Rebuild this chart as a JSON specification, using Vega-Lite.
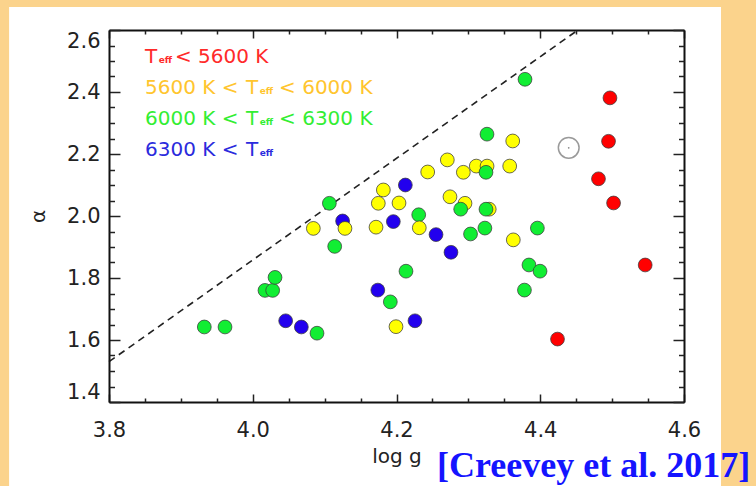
{
  "$schema": "https://vega.github.io/schema/vega-lite/v6.json",
  "width": 575,
  "height": 372,
  "autosize": {"type": "none"},
  "padding": {"left": 109, "top": 30, "right": 72, "bottom": 84},
  "background": "#fbd38c",
  "config": {
    "view": {"fill": null, "stroke": null},
    "axis": {
      "grid": false,
      "labelFont": "DejaVu Sans",
      "labelFontSize": 21,
      "labelColor": "#222222",
      "titleFont": "DejaVu Sans",
      "titleFontSize": 20,
      "titleFontWeight": "normal",
      "titleColor": "#222222",
      "tickColor": "#222222",
      "tickWidth": 1.5,
      "domainColor": "#111111",
      "domainWidth": 2
    }
  },
  "layer": [
    {
      "data": {"values": [{}]},
      "mark": {"type": "rect", "color": "#ffffff", "clip": false},
      "encoding": {
        "x": {"datum": 3.661, "type": "quantitative", "scale": {"domain": [3.8, 4.6], "nice": false, "zero": false}, "axis": null},
        "x2": {"datum": 4.6515},
        "y": {"datum": 2.674, "type": "quantitative", "scale": {"domain": [1.4, 2.6], "nice": false, "zero": false}, "axis": null},
        "y2": {"datum": 1.05}
      }
    },
    {
      "data": {"values": [{"logg": 3.8, "alpha": 1.53}, {"logg": 4.4525, "alpha": 2.6}]},
      "mark": {"type": "line", "color": "#222222", "strokeDash": [7, 5], "strokeWidth": 1.6},
      "encoding": {
        "x": {"field": "logg", "type": "quantitative", "scale": {"domain": [3.8, 4.6], "nice": false, "zero": false},
          "axis": {"orient": "top", "zindex": 2, "values": [3.8, 4.0, 4.2, 4.4, 4.6], "tickSize": -8, "labels": false, "title": null, "domain": true}},
        "y": {"field": "alpha", "type": "quantitative", "scale": {"domain": [1.4, 2.6], "nice": false, "zero": false},
          "axis": {"orient": "right", "zindex": 2, "values": [1.4, 1.6, 1.8, 2.0, 2.2, 2.4, 2.6], "tickSize": -11, "labels": false, "title": null, "domain": true}}
      }
    },
    {
      "data": {"values": [
        {"logg": 4.2123, "alpha": 2.100, "teff": "T4"},
        {"logg": 4.125, "alpha": 1.984, "teff": "T4"},
        {"logg": 4.1956, "alpha": 1.982, "teff": "T4"},
        {"logg": 4.255, "alpha": 1.940, "teff": "T4"},
        {"logg": 4.2758, "alpha": 1.883, "teff": "T4"},
        {"logg": 4.174, "alpha": 1.761, "teff": "T4"},
        {"logg": 4.0458, "alpha": 1.662, "teff": "T4"},
        {"logg": 4.0676, "alpha": 1.642, "teff": "T4"},
        {"logg": 4.2257, "alpha": 1.662, "teff": "T4"},
        {"logg": 4.2309, "alpha": 2.004, "teff": "T3"},
        {"logg": 4.3617, "alpha": 2.242, "teff": "T2"},
        {"logg": 4.2707, "alpha": 2.181, "teff": "T2"},
        {"logg": 4.2434, "alpha": 2.142, "teff": "T2"},
        {"logg": 4.293, "alpha": 2.141, "teff": "T2"},
        {"logg": 4.311, "alpha": 2.161, "teff": "T2"},
        {"logg": 4.326, "alpha": 2.161, "teff": "T2"},
        {"logg": 4.3575, "alpha": 2.161, "teff": "T2"},
        {"logg": 4.1817, "alpha": 2.084, "teff": "T2"},
        {"logg": 4.1747, "alpha": 2.041, "teff": "T2"},
        {"logg": 4.2035, "alpha": 2.042, "teff": "T2"},
        {"logg": 4.2744, "alpha": 2.062, "teff": "T2"},
        {"logg": 4.2953, "alpha": 2.041, "teff": "T2"},
        {"logg": 4.329, "alpha": 2.022, "teff": "T2"},
        {"logg": 4.0843, "alpha": 1.960, "teff": "T2"},
        {"logg": 4.1283, "alpha": 1.960, "teff": "T2"},
        {"logg": 4.1715, "alpha": 1.964, "teff": "T2"},
        {"logg": 4.2317, "alpha": 1.962, "teff": "T2"},
        {"logg": 4.3625, "alpha": 1.923, "teff": "T2"},
        {"logg": 4.1993, "alpha": 1.643, "teff": "T2"},
        {"logg": 4.3788, "alpha": 2.441, "teff": "T3"},
        {"logg": 4.3259, "alpha": 2.264, "teff": "T3"},
        {"logg": 4.3245, "alpha": 2.141, "teff": "T3"},
        {"logg": 4.1066, "alpha": 2.041, "teff": "T3"},
        {"logg": 4.2893, "alpha": 2.022, "teff": "T3"},
        {"logg": 4.3245, "alpha": 2.022, "teff": "T3"},
        {"logg": 4.303, "alpha": 1.942, "teff": "T3"},
        {"logg": 4.323, "alpha": 1.961, "teff": "T3"},
        {"logg": 4.396, "alpha": 1.961, "teff": "T3"},
        {"logg": 4.114, "alpha": 1.902, "teff": "T3"},
        {"logg": 4.3843, "alpha": 1.842, "teff": "T3"},
        {"logg": 4.3997, "alpha": 1.822, "teff": "T3"},
        {"logg": 4.2132, "alpha": 1.822, "teff": "T3"},
        {"logg": 4.378, "alpha": 1.761, "teff": "T3"},
        {"logg": 4.1914, "alpha": 1.723, "teff": "T3"},
        {"logg": 4.017, "alpha": 1.760, "teff": "T3"},
        {"logg": 4.0277, "alpha": 1.760, "teff": "T3"},
        {"logg": 4.031, "alpha": 1.802, "teff": "T3"},
        {"logg": 3.9326, "alpha": 1.642, "teff": "T3"},
        {"logg": 3.9614, "alpha": 1.642, "teff": "T3"},
        {"logg": 4.0894, "alpha": 1.622, "teff": "T3"},
        {"logg": 4.497, "alpha": 2.381, "teff": "T1"},
        {"logg": 4.495, "alpha": 2.241, "teff": "T1"},
        {"logg": 4.481, "alpha": 2.120, "teff": "T1"},
        {"logg": 4.502, "alpha": 2.042, "teff": "T1"},
        {"logg": 4.546, "alpha": 1.842, "teff": "T1"},
        {"logg": 4.424, "alpha": 1.603, "teff": "T1"}
      ]},
      "mark": {"type": "circle", "size": 190, "opacity": 1, "stroke": "#3a3a3a", "strokeWidth": 1, "strokeOpacity": 0.75},
      "encoding": {
        "x": {"field": "logg", "type": "quantitative", "scale": {"domain": [3.8, 4.6], "nice": false, "zero": false},
          "axis": {"orient": "bottom", "zindex": 2, "values": [3.8, 4.0, 4.2, 4.4, 4.6], "format": ".1f", "tickSize": -8, "labelPadding": 25, "labelFlush": false, "labelOverlap": false, "title": "log g", "titlePadding": 6, "domain": true}},
        "y": {"field": "alpha", "type": "quantitative", "scale": {"domain": [1.4, 2.6], "nice": false, "zero": false},
          "axis": {"orient": "left", "zindex": 2, "values": [1.4, 1.6, 1.8, 2.0, 2.2, 2.4, 2.6], "format": ".1f", "tickSize": -11, "labelPadding": 20, "labelFlush": true, "labelOverlap": false, "title": "α", "titlePadding": 18, "domain": true}},
        "color": {"field": "teff", "type": "nominal", "scale": {"domain": ["T1", "T2", "T3", "T4"], "range": ["#ff0000", "#ffff00", "#11ee33", "#2200ee"]}, "legend": null}
      }
    },
    {
      "data": {"values": [{"logg": 4.4396, "alpha": 2.22}]},
      "mark": {"type": "point", "shape": "circle", "filled": false, "size": 430, "stroke": "#9a9a9a", "strokeWidth": 1.5, "opacity": 1},
      "encoding": {
        "x": {"field": "logg", "type": "quantitative", "scale": {"domain": [3.8, 4.6], "nice": false, "zero": false}, "axis": null},
        "y": {"field": "alpha", "type": "quantitative", "scale": {"domain": [1.4, 2.6], "nice": false, "zero": false}, "axis": null}
      }
    },
    {
      "data": {"values": [{"logg": 4.4396, "alpha": 2.22}]},
      "mark": {"type": "circle", "size": 3, "color": "#888888", "opacity": 1},
      "encoding": {
        "x": {"field": "logg", "type": "quantitative", "scale": {"domain": [3.8, 4.6], "nice": false, "zero": false}, "axis": null},
        "y": {"field": "alpha", "type": "quantitative", "scale": {"domain": [1.4, 2.6], "nice": false, "zero": false}, "axis": null}
      }
    },
    {
      "data": {"values": [
        {"logg": 3.8501, "alpha": 2.495, "label": "T", "grp": "T1"},
        {"logg": 3.8918, "alpha": 2.495, "label": "< 5600 K", "grp": "T1"},
        {"logg": 3.8501, "alpha": 2.395, "label": "5600 K <", "grp": "T2"},
        {"logg": 3.9905, "alpha": 2.395, "label": "T", "grp": "T2"},
        {"logg": 4.0366, "alpha": 2.395, "label": "< 6000 K", "grp": "T2"},
        {"logg": 3.8501, "alpha": 2.295, "label": "6000 K <", "grp": "T3"},
        {"logg": 3.9905, "alpha": 2.295, "label": "T", "grp": "T3"},
        {"logg": 4.0366, "alpha": 2.295, "label": "< 6300 K", "grp": "T3"},
        {"logg": 3.8501, "alpha": 2.195, "label": "6300 K <", "grp": "T4"},
        {"logg": 3.9905, "alpha": 2.195, "label": "T", "grp": "T4"}
      ]},
      "mark": {"type": "text", "font": "DejaVu Sans", "fontSize": 20, "align": "left", "baseline": "alphabetic"},
      "encoding": {
        "x": {"field": "logg", "type": "quantitative", "scale": {"domain": [3.8, 4.6], "nice": false, "zero": false},
          "axis": {"orient": "bottom", "zindex": 2, "values": [3.85, 3.9, 3.95, 4.05, 4.1, 4.15, 4.25, 4.3, 4.35, 4.45, 4.5, 4.55], "tickSize": -4, "labels": false, "title": null, "domain": false}},
        "y": {"field": "alpha", "type": "quantitative", "scale": {"domain": [1.4, 2.6], "nice": false, "zero": false},
          "axis": {"orient": "left", "zindex": 2, "values": [1.45, 1.5, 1.55, 1.65, 1.7, 1.75, 1.85, 1.9, 1.95, 2.05, 2.1, 2.15, 2.25, 2.3, 2.35, 2.45, 2.5, 2.55], "tickSize": -5.5, "labels": false, "title": null, "domain": false}},
        "text": {"field": "label"},
        "color": {"field": "grp", "type": "nominal", "scale": {"domain": ["T1", "T2", "T3", "T4"], "range": ["#ff2a2a", "#ffc52e", "#33ee33", "#2b2bdd"]}, "legend": null}
      }
    },
    {
      "data": {"values": [
        {"logg": 3.8692, "alpha": 2.495, "grp": "T1"},
        {"logg": 4.0096, "alpha": 2.395, "grp": "T2"},
        {"logg": 4.0096, "alpha": 2.295, "grp": "T3"},
        {"logg": 4.0096, "alpha": 2.195, "grp": "T4"}
      ]},
      "mark": {"type": "text", "text": "eff", "font": "DejaVu Sans", "fontSize": 9, "fontWeight": "bold", "align": "left", "baseline": "alphabetic", "dy": 0.5},
      "encoding": {
        "x": {"field": "logg", "type": "quantitative", "scale": {"domain": [3.8, 4.6], "nice": false, "zero": false},
          "axis": {"orient": "top", "zindex": 2, "values": [3.85, 3.9, 3.95, 4.05, 4.1, 4.15, 4.25, 4.3, 4.35, 4.45, 4.5, 4.55], "tickSize": -4, "labels": false, "title": null, "domain": false}},
        "y": {"field": "alpha", "type": "quantitative", "scale": {"domain": [1.4, 2.6], "nice": false, "zero": false},
          "axis": {"orient": "right", "zindex": 2, "values": [1.45, 1.5, 1.55, 1.65, 1.7, 1.75, 1.85, 1.9, 1.95, 2.05, 2.1, 2.15, 2.25, 2.3, 2.35, 2.45, 2.5, 2.55], "tickSize": -5.5, "labels": false, "title": null, "domain": false}},
        "color": {"field": "grp", "type": "nominal", "scale": {"domain": ["T1", "T2", "T3", "T4"], "range": ["#ff2a2a", "#ffc52e", "#33ee33", "#2b2bdd"]}, "legend": null}
      }
    },
    {
      "data": {"values": [{"logg": 4.2563, "alpha": 1.158, "label": "[Creevey et al. 2017]"}]},
      "mark": {"type": "text", "font": "Liberation Serif", "fontWeight": "bold", "fontSize": 36, "color": "#1414ff", "align": "left", "baseline": "alphabetic", "clip": false},
      "encoding": {
        "x": {"field": "logg", "type": "quantitative", "scale": {"domain": [3.8, 4.6], "nice": false, "zero": false}, "axis": null},
        "y": {"field": "alpha", "type": "quantitative", "scale": {"domain": [1.4, 2.6], "nice": false, "zero": false}, "axis": null},
        "text": {"field": "label"}
      }
    }
  ],
  "resolve": {"axis": {"x": "independent", "y": "independent"}, "scale": {"color": "independent"}}
}
